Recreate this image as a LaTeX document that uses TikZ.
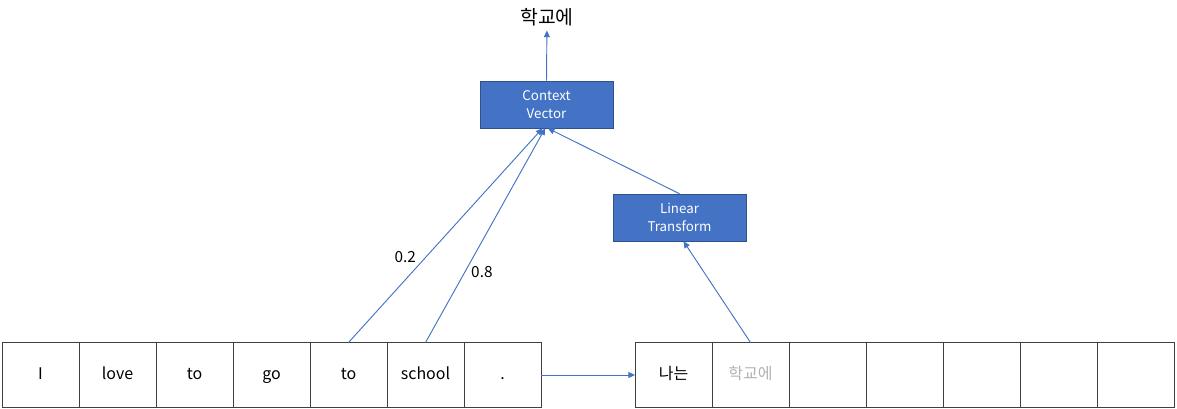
\documentclass[tikz,border=0pt]{standalone}
\usepackage{fontspec}
\setmainfont{Noto Sans CJK KR}
\usepackage{tikz}
\usetikzlibrary{arrows.meta, positioning}
\definecolor{boxblue}{HTML}{4472C4}
\definecolor{boxedge}{HTML}{2F528F}

\begin{document}
\begin{tikzpicture}[
  x=0.75pt, y=-0.75pt,
  cell/.style={rectangle, draw=black!75, line width=0.7pt, outer sep=0pt, minimum width=57.75pt, minimum height=48.75pt, inner sep=0pt, text height=9pt, text depth=2.5pt, font=\fontsize{12}{14}\selectfont},
  blk/.style={rectangle, draw=boxedge, fill=boxblue, text=white, minimum width=99.75pt, minimum height=35.25pt, align=center, inner sep=0pt, font=\fontsize{10}{13.5}\selectfont},
  arrow/.style={-{Triangle[length=5pt,width=4.5pt]}, draw=boxblue, line width=0.7pt}
]
  \useasboundingbox (0,0) rectangle (1177,408);

  % source sentence
  \node[cell] (w0) at (40.5,375) {I};
  \node[cell, right=0pt of w0] (w1) {love};
  \node[cell, right=0pt of w1] (w2) {to};
  \node[cell, right=0pt of w2] (w3) {go};
  \node[cell, right=0pt of w3] (w4) {to};
  \node[cell, right=0pt of w4] (w5) {school};
  \node[cell, right=0pt of w5] (w6) {.};

  % target sentence
  \node[cell] (r0) at (673.5,375) {나는};
  \node[cell, right=0pt of r0, text=black!30] (r1) {학교에};
  \node[cell, right=0pt of r1] (r2) {};
  \node[cell, right=0pt of r2] (r3) {};
  \node[cell, right=0pt of r3] (r4) {};
  \node[cell, right=0pt of r4] (r5) {};
  \node[cell, right=0pt of r5] (r6) {};

  \node[blk] (cv) at (546.5,104.5) {Context\\Vector};
  \node[blk] (lt) at (679.5,217.5) {Linear\\Transform};
  \node[font=\fontsize{14.5}{16}\selectfont] (out) at (547,17) {학교에};

  \draw[arrow] (w6) -- (r0);
  \draw[arrow] (w4.north) -- node[pos=0.4, left, xshift=-4pt, font=\fontsize{11.5}{13}\selectfont]{0.2} ([xshift=-3pt]cv.south);
  \draw[arrow] (w5.north) -- node[pos=0.33, right, xshift=1pt, font=\fontsize{11.5}{13}\selectfont]{0.8} ([xshift=-1pt]cv.south);
  \draw[arrow] (r1.north) -- ([xshift=3pt]lt.south);
  \draw[arrow] (lt.north) -- ([xshift=1pt]cv.south);
  \draw[arrow] (cv.north) -- (out);
\end{tikzpicture}
\end{document}
